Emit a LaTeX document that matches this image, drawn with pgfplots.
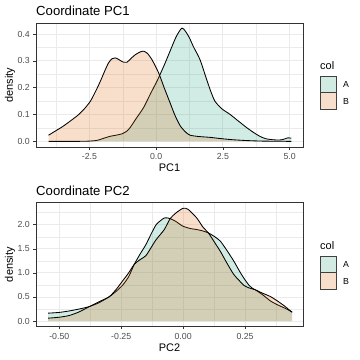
\documentclass[border=0pt]{standalone}
\usepackage{pgfplots}
\pgfplotsset{compat=1.18}
\usepackage{pgfplotstable}
\usepackage{fontspec}
\setmainfont{Liberation Sans}
\definecolor{cA}{RGB}{27,158,119}
\definecolor{cB}{RGB}{217,95,2}
\definecolor{gridc}{RGB}{235,235,235}
\definecolor{g30}{RGB}{77,77,77}
\definecolor{g20}{RGB}{51,51,51}

\pgfplotstableread{
x y
-4.03 0
-3.0 0
-2.5 0.001
-2.2 0.004
-1.95 0.012
-1.72 0.019
-1.5 0.023
-1.28 0.028
-1.1 0.038
-0.97 0.052
-0.75 0.085
-0.47 0.126
-0.2 0.18
0.03 0.224
0.15 0.25
0.35 0.295
0.52 0.336
0.75 0.39
0.96 0.422
1.1 0.41
1.25 0.385
1.39 0.354
1.64 0.305
1.89 0.231
2.05 0.185
2.2 0.150
2.45 0.122
2.76 0.101
3.05 0.078
3.38 0.052
3.65 0.033
3.88 0.019
4.1 0.01
4.38 0.006
4.6 0.005
4.75 0.007
4.93 0.013
5.06 0.012
}\topA

\pgfplotstableread{
x y
-4.03 0.023
-3.75 0.04
-3.46 0.058
-2.96 0.095
-2.7 0.12
-2.46 0.150
-2.25 0.19
-2.09 0.224
-1.9 0.268
-1.78 0.293
-1.65 0.308
-1.53 0.311
-1.4 0.305
-1.25 0.296
-1.09 0.295
-0.93 0.31
-0.78 0.323
-0.6 0.333
-0.47 0.336
-0.33 0.328
-0.16 0.305
0.09 0.256
0.3 0.2
0.52 0.144
0.7 0.098
0.9 0.058
1.1 0.035
1.27 0.023
1.6 0.018
2.01 0.015
2.45 0.01
2.88 0.006
3.4 0.003
4.0 0.001
5.06 0.0
}\topB

\pgfplotstableread{
x y
-0.545 0.164
-0.5 0.18
-0.46 0.21
-0.42 0.25
-0.379 0.30
-0.34 0.38
-0.298 0.506
-0.27 0.62
-0.244 0.746
-0.22 0.92
-0.197 1.18
-0.175 1.38
-0.15 1.59
-0.13 1.80
-0.109 2.0
-0.09 2.09
-0.076 2.14
-0.062 2.14
-0.049 2.12
-0.03 2.07
-0.001 1.97
0.03 1.92
0.055 1.90
0.08 1.87
0.102 1.83
0.125 1.76
0.15 1.66
0.175 1.48
0.204 1.25
0.225 1.06
0.244 0.90
0.265 0.75
0.28 0.68
0.291 0.65
0.32 0.55
0.352 0.42
0.38 0.34
0.41 0.27
0.44 0.19
}\botA

\pgfplotstableread{
x y
-0.545 0.06
-0.5 0.08
-0.46 0.115
-0.42 0.19
-0.379 0.30
-0.34 0.40
-0.298 0.506
-0.27 0.66
-0.244 0.835
-0.22 1.0
-0.197 1.18
-0.175 1.27
-0.15 1.36
-0.13 1.52
-0.109 1.69
-0.076 1.90
-0.053 2.12
-0.03 2.24
-0.001 2.34
0.02 2.32
0.055 2.14
0.08 1.95
0.102 1.83
0.125 1.65
0.15 1.45
0.175 1.22
0.204 0.97
0.225 0.85
0.244 0.746
0.265 0.69
0.291 0.65
0.32 0.58
0.352 0.51
0.38 0.42
0.41 0.31
0.44 0.18
}\botB

\pgfplotsset{ggp/.style={
  scale only axis, width=267bp, height=124bp, anchor=south west,
  axis line style={draw=g20, line width=0.6bp},
  grid=both,
  major grid style={draw=gridc, line width=0.9bp},
  minor grid style={draw=gridc, line width=0.45bp},
  tick align=outside, major tick length=2.75bp, minor tick length=0pt,
  tick style={draw=g20, line width=0.6bp},
  tick pos=left,
  ticklabel style={font=\fontsize{8.8}{10}\selectfont, text=g30},
  every axis x label/.style={at={(axis description cs:0.5,-0.1694)}, anchor=center, font=\fontsize{11}{13}\selectfont},
  every axis y label/.style={at={(axis description cs:-0.0974,0.5)}, anchor=center, rotate=90, font=\fontsize{11}{13}\selectfont},
  ylabel={density},
}}

\begin{document}
\begin{tikzpicture}
\path[use as bounding box] (0,0) rectangle (360bp,-360bp);

\begin{axis}[ggp, at={(36bp,-147bp)},
  xmin=-4.5, xmax=5.5, ymin=-0.021, ymax=0.441,
  xtick={-2.5,0,2.5,5}, xticklabels={-2.5,0.0,2.5,5.0},
  minor xtick={-3.75,-1.25,1.25,3.75},
  ytick={0,0.1,0.2,0.3,0.4}, yticklabels={0.0,0.1,0.2,0.3,0.4},
  minor ytick={0.05,0.15,0.25,0.35},
  xlabel={PC1}]
\addplot[draw=none, fill=cA, fill opacity=0.2, smooth, tension=0.4] table[x=x,y=y]{\topA} \closedcycle;
\addplot[black, line width=0.85bp, smooth, tension=0.4] table[x=x,y=y]{\topA};
\addplot[draw=none, fill=cB, fill opacity=0.2, smooth, tension=0.4] table[x=x,y=y]{\topB} \closedcycle;
\addplot[black, line width=0.85bp, smooth, tension=0.4] table[x=x,y=y]{\topB};
\end{axis}

\begin{axis}[ggp, at={(36bp,-326.7bp)},
  xmin=-0.594, xmax=0.484, ymin=-0.117, ymax=2.457,
  xtick={-0.5,-0.25,0,0.25}, xticklabels={-0.50,-0.25,0.00,0.25},
  minor xtick={-0.375,-0.125,0.125,0.375},
  ytick={0,0.5,1,1.5,2}, yticklabels={0.0,0.5,1.0,1.5,2.0},
  minor ytick={0.25,0.75,1.25,1.75,2.25},
  xlabel={PC2}]
\addplot[draw=none, fill=cA, fill opacity=0.2, smooth, tension=0.4] table[x=x,y=y]{\botA} \closedcycle;
\addplot[black, line width=0.85bp, smooth, tension=0.4] table[x=x,y=y]{\botA};
\addplot[draw=none, fill=cB, fill opacity=0.2, smooth, tension=0.4] table[x=x,y=y]{\botB} \closedcycle;
\addplot[black, line width=0.85bp, smooth, tension=0.4] table[x=x,y=y]{\botB};
\end{axis}

% titles
\node[anchor=base west, inner sep=0, font=\fontsize{13.2}{15}\selectfont] at (36bp,-15bp) {Coordinate PC1};
\node[anchor=base west, inner sep=0, font=\fontsize{13.2}{15}\selectfont] at (36bp,-195bp) {Coordinate PC2};

% legends
\foreach \dy in {0,180}{
  \node[anchor=base west, inner sep=0, font=\fontsize{11}{13}\selectfont] at (320bp,-69.5bp-\dy bp) {col};
  \fill[white] (319.5bp,-76bp-\dy bp) rectangle (336.5bp,-110bp-\dy bp);
  \filldraw[fill=cA, fill opacity=0.2, draw=black!75, line width=1bp] (320bp,-76.5bp-\dy bp) rectangle (336bp,-92.7bp-\dy bp);
  \filldraw[fill=cB, fill opacity=0.2, draw=black!75, line width=1bp] (320bp,-92.7bp-\dy bp) rectangle (336bp,-109.5bp-\dy bp);
  \node[anchor=base west, inner sep=0, font=\fontsize{8.8}{10}\selectfont] at (343bp,-87.7bp-\dy bp) {A};
  \node[anchor=base west, inner sep=0, font=\fontsize{8.8}{10}\selectfont] at (343bp,-104.3bp-\dy bp) {B};
}
\end{tikzpicture}
\end{document}
